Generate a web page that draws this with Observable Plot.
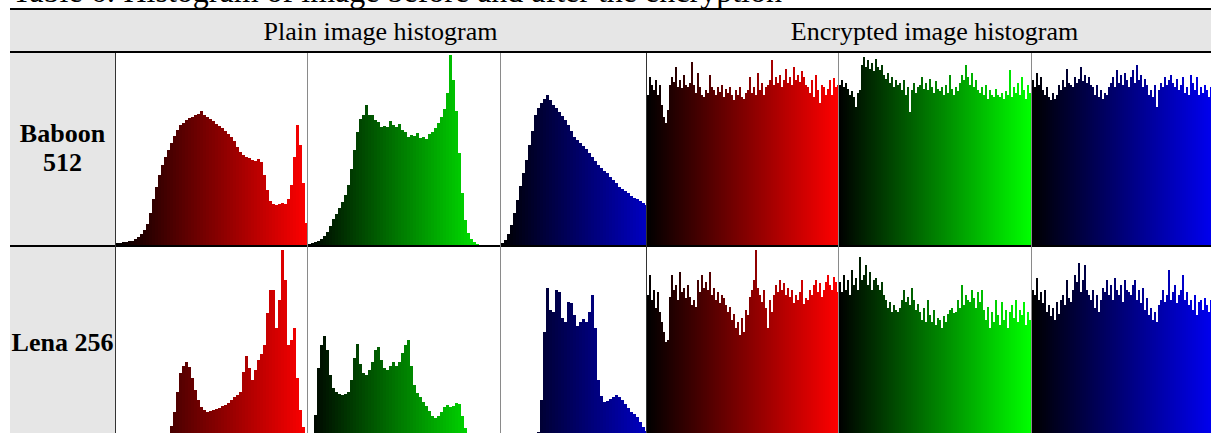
<!DOCTYPE html>
<html><head><meta charset="utf-8">
<script src="https://cdn.jsdelivr.net/npm/d3@7"></script>
<script src="https://cdn.jsdelivr.net/npm/@observablehq/plot@0.6"></script>
<style>
html,body{margin:0;padding:0;background:#fff;overflow:hidden;}
#page{position:relative;width:1211px;height:433px;overflow:hidden;font-family:"Liberation Serif","Times New Roman",serif;color:#000;}
.abs{position:absolute;}
</style></head><body><div id="page"></div>
<script>
// ---------- text ----------
const title = "Table 6: Histogram of image before and after the encryption";
const groupLabels = ["Plain image histogram", "Encrypted image histogram"];
const imageLabels = [["Baboon", "512"], ["Lena 256"]];
const channelColors = ["#ff0000", "#00ff00", "#0000ff"];
const plainBins = 64;      // bins per plain histogram (4 grey levels each)
const encryptedBins = 96;  // bins per encrypted histogram

// ---------- values (relative frequency, 193 = cell top) ----------
const baboonPlainR = [2,2,3,3,4,4,6,8,11,15, 21,32,46,58,70,80,88,95,102,109, 115,120,122,125,127,128,130,131,134,130, 128,126,124,121,119,117,114,111,108,104, 98,93,90,88,87,85,84,86,83,70, 55,44,41,40,41,42,41,46,60,88, 120,100,62,22];
const baboonPlainG = [1,2,3,4,6,9,13,19,26,31, 37,43,50,60,76,95,113,126,130,140, 130,130,125,123,118,119,118,124,120,118, 121,115,113,108,110,109,112,107,108,106, 111,113,117,122,128,136,152,190,165,134, 92,52,25,12,6,3,1,0,0,0, 0,0,0,0];
const baboonPlainB = [2,5,11,20,32,45,59,72,85,100, 114,130,137,142,146,150,145,140,137,133, 129,125,120,114,108,105,102,99,96,92, 88,84,80,77,74,72,68,65,62,58, 56,54,52,49,47,46,44,42,40];
const baboonEncR = [150,168,160,155,165,150,160,140,128,122, 135,160,168,163,178,158,165,157,170,160,
  158,162,183,160,152,172,158,150,148,155, 152,170,158,155,150,158,153,160,148,156,
  152,158,150,145,155,150,158,148,146,152, 155,168,152,158,150,172,155,162,150,158,
  160,165,185,160,168,162,170,158,165,176, 162,168,160,178,165,170,163,174,168,160,
  158,152,165,148,170,155,142,160,158,150, 156,165,150,167,158,160];
const baboonEncG = [160,165,158,162,156,150,154,148,138,152, 155,180,188,178,185,176,182,174,186,178,
  175,180,170,166,172,162,168,158,165,160, 162,155,165,150,158,133,155,162,152,158,
  160,168,156,162,155,166,158,152,164,156, 154,158,150,160,152,170,156,150,158,154,
  162,170,165,180,168,160,172,158,165,155, 152,158,150,160,146,155,150,148,156,150,
  148,152,146,154,150,175,148,158,152,162, 150,168,155,146,160,152];
const baboonEncB = [165,158,172,160,168,155,150,158,148,145, 152,146,150,160,155,165,158,176,162,160,
  158,168,162,166,178,164,170,162,168,160, 158,150,160,148,155,146,152,150,158,162,
  168,158,175,162,170,160,172,165,158,168, 175,162,180,165,170,158,166,160,150,155,
  148,160,138,155,162,158,168,160,165,170, 162,158,166,155,160,168,152,158,150,170,
  162,155,168,150,158,152,160,155,148,158];
const lenaPlainR = [1,1,1,1,1,1,1,2,2,2, 2,3,3,3,4,4,5,7,14,28, 48,67,74,78,73,62,50,40,33,30, 28,29,30,31,32,34,35,37,40,43, 45,48,68,84,72,60,70,80,86,95, 127,150,150,112,140,190,160,95,100,112, 62,30,13,3];
const lenaPlainG = [1,4,25,72,95,104,90,65,52,48, 46,45,46,48,60,82,96,76,67,65, 70,78,90,93,80,72,70,74,78,74, 78,87,95,100,74,55,47,43,38,34, 29,24,22,24,28,33,35,33,34,37, 36,24,12,4,1,0,0,0,0,0, 0,0,0,0];
const lenaPlainB = [0,0,0,0,0,0,0,0,0,0, 0,0,8,40,108,152,130,128,150,148, 122,118,138,137,125,114,118,121,118,128, 145,112,60,44,38,39,41,43,45,43, 40,36,32,28,26,23,18,13,9];
const lenaEncR = [145,165,140,150,132,148,128,118,108,98, 100,143,165,150,155,140,168,148,152,142,
  155,143,135,140,133,160,148,165,152,158, 150,168,145,152,140,148,137,145,142,135,
  128,133,120,126,112,118,105,122,108,130, 125,143,150,160,190,152,145,138,150,132,
  112,140,128,145,155,148,160,150,157,145, 152,143,150,137,145,140,148,160,136,142,
  140,150,145,155,160,148,157,143,150,158, 165,155,150,163,158,148];
const lenaEncG = [158,148,165,150,160,145,170,155,162,150, 183,160,165,175,155,168,150,160,162,155,
  150,158,145,140,132,138,128,135,130,128, 132,140,150,138,143,135,152,140,130,136,
  128,120,132,118,140,125,118,130,115,122, 120,112,124,118,126,130,132,127,128,140,
  132,155,135,145,140,138,150,142,132,148, 138,150,130,120,133,112,128,118,140,125,
  115,138,120,130,112,128,135,122,140,118, 130,125,138,115,128,120];
const lenaEncB = [150,145,162,140,148,137,150,128,135,124, 132,120,138,126,140,145,135,160,142,138,
  150,165,158,177,148,160,175,150,145,140, 150,132,145,128,140,152,148,160,145,155,
  140,162,150,145,155,138,160,150,148,145, 155,160,140,150,137,152,130,142,125,132,
  120,128,118,135,140,150,138,145,170,140, 148,155,137,145,150,165,140,148,135,140,
  130,145,125,138,140,130,142,135,128,140];

const rows = [
  [baboonPlainR, baboonPlainG, baboonPlainB, baboonEncR, baboonEncG, baboonEncB],
  [lenaPlainR, lenaPlainG, lenaPlainB, lenaEncR, lenaEncG, lenaEncB]
];

// ---------- layout ----------
const page = document.getElementById("page");
function box(l, t, w, h, css) {
  const d = document.createElement("div");
  d.className = "abs";
  Object.assign(d.style, {left: l + "px", top: t + "px", width: w + "px", height: h + "px"}, css || {});
  page.appendChild(d);
  return d;
}
function text(str, l, t, w, css) {
  const d = box(l, t, w, 0, css);
  d.style.height = "auto";
  d.textContent = str;
  return d;
}

const tableLeft = 10, tableRight = 1223;
const colLines = [115, 307, 500, 646, 838, 1031];
const colWidth = [191, 192, 145, 191, 192, 192];
const rowTops = [52, 247];
const cellH = 193;

function hist(values, bins, color) {
  const step = 256 / bins;
  const data = values.map((v, i) => ({x1: i * step, x2: (i + 1) * step, level: (i + 0.5) * step, v}));
  return Plot.plot({
    width: 192, height: cellH, margin: 0,
    x: {domain: [0, 256], axis: null},
    y: {domain: [0, cellH], axis: null},
    color: {type: "linear", domain: [0, 256], range: ["#000000", color], interpolate: "rgb"},
    style: {background: "transparent", maxWidth: "none", display: "block"},
    marks: [Plot.rect(data, {x1: "x1", x2: "x2", y1: 0, y2: "v", fill: "level", shapeRendering: "crispEdges"})]
  });
}

// backgrounds
box(tableLeft, 10, tableRight - tableLeft, 41, {background: "#e6e6e6"});
box(tableLeft, 52, 115 - tableLeft, 433, {background: "#e6e6e6"});

// histograms
rows.forEach((row, r) => {
  row.forEach((vals, c) => {
    const wrap = box(colLines[c] + 1, rowTops[r], colWidth[c], cellH, {overflow: "hidden"});
    wrap.appendChild(hist(vals, c < 3 ? plainBins : encryptedBins, channelColors[c % 3]));
  });
});

// rules
box(tableLeft, 8, tableRight - tableLeft, 2, {background: "#000"});
box(tableLeft, 51, tableRight - tableLeft, 2, {background: "#000"});
box(tableLeft, 245, tableRight - tableLeft, 2, {background: "#000"});
colLines.forEach((x, i) => {
  box(x, 53, 1, 400, {background: (i === 0 || i === 3) ? "#333" : "#8a8a8a"});
});

// texts (title is partly above the top edge, as in the reference crop)
text(title, 12, -25.5, 1100, {fontSize: "32px", lineHeight: "32px", whiteSpace: "nowrap"});
text(groupLabels[0], 115, 19, 646 - 115, {fontSize: "26px", lineHeight: "26px", textAlign: "center", whiteSpace: "nowrap"});
text(groupLabels[1], 646, 19, tableRight - 646, {fontSize: "26px", lineHeight: "26px", textAlign: "center", whiteSpace: "nowrap"});
const lab1 = text("", tableLeft, 119.4, 105, {fontSize: "26px", lineHeight: "29px", textAlign: "center", fontWeight: "bold"});
lab1.innerHTML = imageLabels[0].join("<br>");
text(imageLabels[1][0], tableLeft, 328.4, 105, {fontSize: "26px", lineHeight: "29px", textAlign: "center", fontWeight: "bold", whiteSpace: "nowrap"});
</script></body></html>
